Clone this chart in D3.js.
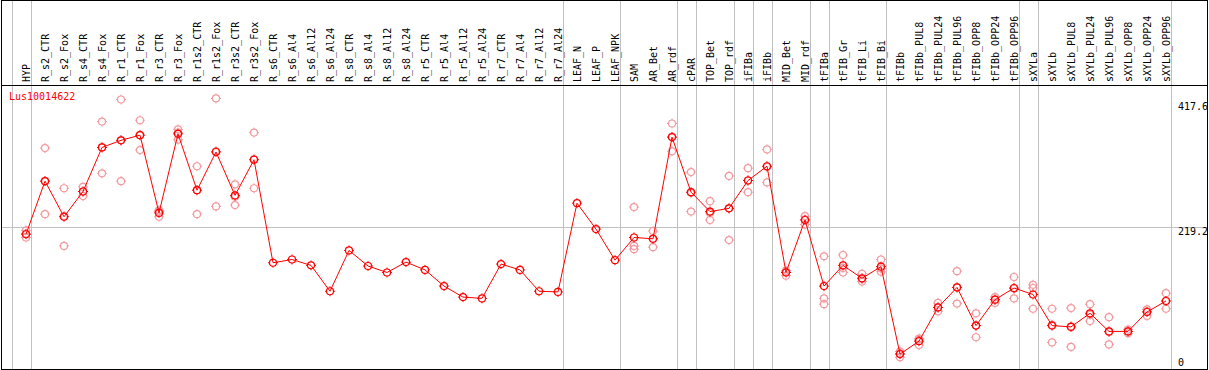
<!DOCTYPE html>
<html lang="en">
<head>
<meta charset="UTF-8">
<title>Lus10014622</title>
<style>
    body { margin: 0; background: #fff; }
    text { font-family: "DejaVu Sans Mono", monospace; font-size: 10px; }
</style>
</head>
<body>
<div id="chart"></div>
<script src="https://cdn.jsdelivr.net/npm/d3@7"></script>
<script>
    const width = 1209, height = 370;
    const frame = {"left": 1.5, "top": 0.5, "right": 1207.5, "bottom": 369.5, "header": 85.5};

    const geneName = "Lus10014622";

    const categories = ["HYP", "R_s2_CTR", "R_s2_Fox", "R_s4_CTR", "R_s4_Fox", "R_r1_CTR", "R_r1_Fox",
        "R_r3_CTR", "R_r3_Fox", "R_r1s2_CTR", "R_r1s2_Fox", "R_r3s2_CTR", "R_r3s2_Fox",
        "R_s6_CTR", "R_s6_Al4", "R_s6_Al12", "R_s6_Al24", "R_s8_CTR", "R_s8_Al4", "R_s8_Al12", "R_s8_Al24",
        "R_r5_CTR", "R_r5_Al4", "R_r5_Al12", "R_r5_Al24", "R_r7_CTR", "R_r7_Al4", "R_r7_Al12", "R_r7_Al24",
        "LEAF_N", "LEAF_P", "LEAF_NPK", "SAM", "AR_Bet", "AR_rdf", "cPAR", "TOP_Bet", "TOP_rdf",
        "iFIBa", "iFIBb", "MID_Bet", "MID_rdf", "tFIBa", "tFIB_Gr", "tFIB_Li", "tFIB_Bi",
        "tFIBb", "tFIBb_PUL8", "tFIBb_PUL24", "tFIBb_PUL96", "tFIBb_OPP8", "tFIBb_OPP24", "tFIBb_OPP96",
        "sXYLa", "sXYLb", "sXYLb_PUL8", "sXYLb_PUL24", "sXYLb_PUL96", "sXYLb_OPP8", "sXYLb_OPP24", "sXYLb_OPP96"];

    // mean expression per sample
    const means = [208, 290, 235, 274, 342, 353, 361, 241, 363, 276, 335, 268, 323,
        164, 169, 160, 120, 183, 159, 149, 165, 153, 128, 111, 109, 162, 153, 120, 119,
        256, 216, 168, 203, 201, 358, 273, 243, 248, 291, 313, 149, 230, 128, 160, 140, 158,
        23, 43, 95, 126, 67, 107, 125, 115, 67, 65, 86, 58, 58, 88, 105];

    // replicates (null = no replicate shown)
    const rep1 = [214, 341, 279, 281, 382, 416, 384, 245, 370, 313, 417.6, 285, 365,
        null, null, null, null, null, null, null, null, null, null, null, null, null, null, null, null,
        null, null, null, 250, 213, 379, 304, 259, 298, 310, 339, 152, 236, 174, 176, 147, 169,
        27, 47, 102, 151, 86, 111, 142, 130, 93, 94, 100, 80, 61, 92, 117];
    const rep2 = [209, 239, 190, 267, 302, 290, 338, 235, 354, 239, 251, 253, 279,
        null, null, null, null, null, null, null, null, null, null, null, null, null, null, null, null,
        null, null, null, 190, 188, 336, 243, 230, 199, 273, 288, 144, 231, 109, 149, 135, 150,
        18, 37, 89, 101, 49, 102, 109, 125, 41, 34, 74, 38, 55, 82, 93];
    const rep3 = [203, 290, 236, 274, 342, 353, 361, 243, 365, 276, 336, 266, 324,
        null, null, null, null, null, null, null, null, null, null, null, null, null, null, null, null,
        null, null, null, 185, 201, 358, 272, 241, 248, 291, 312, 150, 223, 100, 156, 139, 155,
        24, 45, 95, 126, 67, 107, 124, 93, 68, 66, 84, 57, 58, 89, 105];

    // index of last sample in each group (separator drawn after it), -1 = before first
    const groupEnds = [-1, 0, 28, 31, 34, 35, 37, 38, 39, 41, 42, 45, 52, 53, 60];

    const yTicks = [417.6, 219.2, 0];
    const yTop = 438.4;

    const xScale = d3.scalePoint().domain(d3.range(categories.length)).range([26, 1166]);
    const yScale = d3.scaleLinear().domain([0, yTop]).range([369, 85]);
    const step = xScale.step();

    const meanColor = "#ff0000",
        repColor = "#f29a9f",
        gridColor = "#c0c0c0";

    let svg = d3.select("#chart")
        .append("svg")
        .attr("width", width)
        .attr("height", height)
        .style("display", "block");

    let grid = svg.append("g").classed("grid", true).attr("shape-rendering", "crispEdges");

    grid.selectAll("line.v")
        .data(groupEnds)
        .join("line")
        .classed("v", true)
        .attr("x1", d => Math.round(xScale(0) + step * d + 4.5) + 0.5)
        .attr("x2", d => Math.round(xScale(0) + step * d + 4.5) + 0.5)
        .attr("y1", frame.top)
        .attr("y2", frame.bottom)
        .style("stroke", gridColor);

    grid.append("line")
        .attr("x1", frame.left)
        .attr("x2", frame.right)
        .attr("y1", Math.round(yScale(219.2)) + 0.5)
        .attr("y2", Math.round(yScale(219.2)) + 0.5)
        .style("stroke", gridColor);

    // frame and header separator
    let box = svg.append("g").attr("shape-rendering", "crispEdges");
    box.append("rect")
        .attr("x", frame.left)
        .attr("y", frame.top)
        .attr("width", frame.right - frame.left)
        .attr("height", frame.bottom - frame.top - 0.5)
        .style("fill", "none")
        .style("stroke", "#000");
    box.append("line")
        .attr("x1", frame.left)
        .attr("x2", frame.right)
        .attr("y1", frame.header)
        .attr("y2", frame.header)
        .style("stroke", "#000");

    // column labels
    svg.append("g")
        .classed("labels", true)
        .selectAll("text")
        .data(categories)
        .join("text")
        .attr("transform", (d, i) => `translate(${xScale(i) + 3.5},82) rotate(-90)`)
        .style("fill", "#000")
        .text(d => d);

    // y labels
    const yOffset = {"417.6": 12, "219.2": 8, "0": -3};
    svg.append("g")
        .classed("ylabels", true)
        .selectAll("text")
        .data(yTicks)
        .join("text")
        .attr("x", 1178)
        .attr("y", d => yScale(d) + yOffset[String(d)])
        .style("fill", "#000")
        .text(d => d);

    svg.append("text")
        .attr("x", 9)
        .attr("y", 100)
        .style("fill", meanColor)
        .text(geneName);

    function marker(sel, color) {
        sel.append("circle")
            .attr("r", 3.5)
            .style("fill", "none")
            .style("stroke", color)
            .style("stroke-width", 1.2);
        sel.append("path")
            .attr("d", "M0,-5V-3.5M0,3.5V5M-5,0H-3.5M3.5,0H5")
            .style("stroke", color)
            .style("stroke-width", 1);
    }

    // replicate points
    let reps = [];
    [rep1, rep2, rep3].forEach(arr => arr.forEach((v, i) => {
        if (v !== null) reps.push({"i": i, "v": v});
    }));
    svg.append("g")
        .classed("reps", true)
        .selectAll("g")
        .data(reps)
        .join("g")
        .attr("transform", d => `translate(${xScale(d.i)},${yScale(d.v)})`)
        .call(marker, repColor);

    let line = d3.line()
        .x((d, i) => xScale(i))
        .y(d => yScale(d));

    svg.append("path")
        .datum(means)
        .attr("d", line)
        .style("fill", "none")
        .style("stroke", meanColor)
        .style("stroke-width", 1);

    svg.append("g")
        .classed("means", true)
        .selectAll("g")
        .data(means)
        .join("g")
        .attr("transform", (d, i) => `translate(${xScale(i)},${yScale(d)})`)
        .call(marker, meanColor);
</script>
</body>
</html>
